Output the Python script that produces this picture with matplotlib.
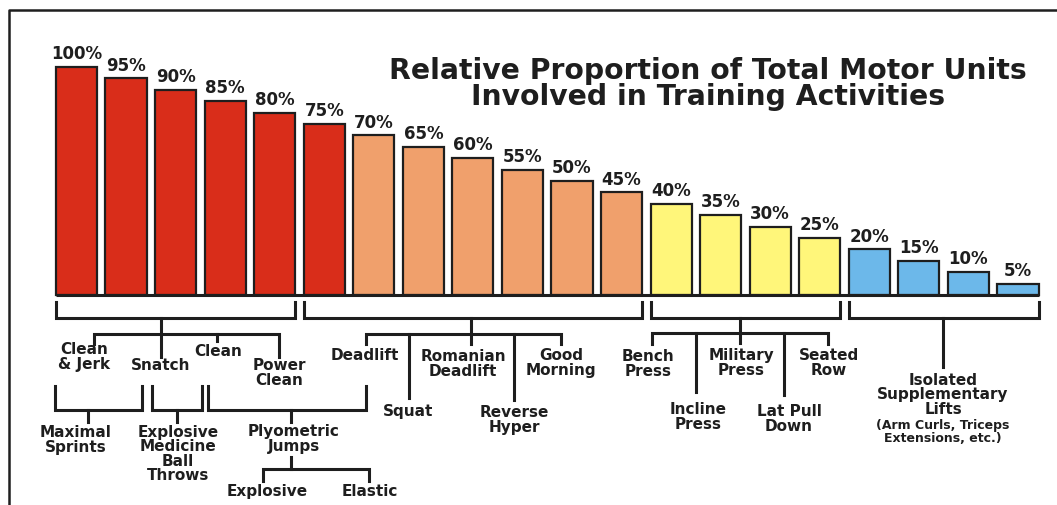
import matplotlib.pyplot as plt
from matplotlib.transforms import blended_transform_factory

plt.rcParams['font.family'] = ['DejaVu Sans']

values = [100, 95, 90, 85, 80, 75, 70, 65, 60, 55, 50, 45, 40, 35, 30, 25, 20, 15, 10, 5]
bar_colors = ['#d92d1a'] * 6 + ['#f0a06c'] * 6 + ['#fff67a'] * 4 + ['#6cb8ea'] * 4
groups = [(0, 4), (5, 11), (12, 15), (16, 19)]  # bar index range under each bracket

title = 'Relative Proportion of Total Motor Units\nInvolved in Training Activities'

# exercise names and where they sit (pixel centre of the text block)
names = ['Clean\n& Jerk', 'Snatch', 'Clean', 'Power\nClean',
         'Maximal\nSprints', 'Explosive\nMedicine\nBall\nThrows', 'Plyometric\nJumps',
         'Explosive', 'Elastic',
         'Deadlift', 'Squat', 'Romanian\nDeadlift', 'Reverse\nHyper', 'Good\nMorning',
         'Bench\nPress', 'Incline\nPress', 'Military\nPress', 'Lat Pull\nDown', 'Seated\nRow',
         'Isolated\nSupplementary\nLifts']
name_pos = [(84, 357), (161, 365), (218, 351), (279, 373),
            (76, 440), (178, 454), (294, 439),
            (267, 492), (370, 492),
            (365, 355), (408, 412), (463, 364), (514, 420), (561, 363),
            (648, 364), (698, 417), (741, 363), (789, 419), (829, 363),
            (943, 395)]
note = '(Arm Curls, Triceps\nExtensions, etc.)'
note_pos = (943, 432)

# connector lines of the tree below the brackets (pixel coords)
tree = [
    [(161, 319), (161, 358)],
    [(94, 345), (94, 335), (279, 335), (279, 358)],
    [(217, 335), (217, 342)],
    [(55, 387), (55, 411), (142, 411), (142, 387)],
    [(88, 411), (88, 423)],
    [(152, 387), (152, 411), (202, 411), (202, 387)],
    [(177, 411), (177, 423)],
    [(208, 387), (208, 411), (366, 411), (366, 387)],
    [(291, 411), (291, 423)],
    [(291, 458), (291, 470)],
    [(263, 482), (263, 470), (369, 470), (369, 482)],
    [(471, 319), (471, 345)],
    [(366, 345), (366, 335), (561, 335), (561, 345)],
    [(409, 335), (409, 399)],
    [(514, 335), (514, 401)],
    [(740, 319), (740, 344)],
    [(652, 345), (652, 334), (828, 334), (828, 345)],
    [(696, 334), (696, 393)],
    [(784, 334), (784, 396)],
    [(943, 319), (943, 368)],
]

ink = '#1e1e1e'
W, H = 1057, 506
fig = plt.figure(figsize=(W / 100, H / 100), dpi=100)

ov = fig.add_axes([0, 0, 1, 1])
ov.set_xlim(0, W)
ov.set_ylim(H, 0)
ov.axis('off')

# frame lines at top and left
ov.plot([8.5, 8.5, W], [H, 11, 11], color=ink, lw=1.8, solid_capstyle='butt')

ax = fig.add_axes([51.7 / W, (H - 296) / H, (1042.8 - 51.7) / W, 228 / H])
ax.set_facecolor('none')
ax.set_xlim(-0.5, 19.5)
ax.set_ylim(0, 100)
ax.axis('off')

bw = 0.83
x = list(range(len(values)))
bars = ax.bar(x, values, width=bw, color=bar_colors, edgecolor=ink, linewidth=1.6, clip_on=False)
ax.bar_label(bars, labels=[f'{v}%' for v in values], padding=3.5,
             fontsize=12, fontweight='bold', color=ink)
ax.hlines(0, -bw / 2, len(values) - 1 + bw / 2, color=ink, lw=2.2, clip_on=False)

ov.text(708, 84, title, ha='center', va='center', fontsize=20.3, fontweight='bold',
        color=ink, linespacing=0.92)

trans = blended_transform_factory(ax.transData, ov.transData)
for a, b in groups:
    x0, x1 = a - bw / 2, b + bw / 2
    ov.plot([x0, x0, x1, x1], [303, 319, 319, 303], transform=trans,
            color=ink, lw=2.2, solid_joinstyle='miter')

for seg in tree:
    xs, ys = zip(*seg)
    ov.plot(xs, ys, color=ink, lw=2.2, solid_joinstyle='miter')

for name, (px, py) in zip(names, name_pos):
    ov.text(px, py, name, ha='center', va='center', fontsize=11, fontweight='bold',
            color=ink, linespacing=0.95)
ov.text(note_pos[0], note_pos[1], note, ha='center', va='center', fontsize=9,
        fontweight='bold', color=ink, linespacing=0.95)

fig.savefig('out.png', dpi=100)
